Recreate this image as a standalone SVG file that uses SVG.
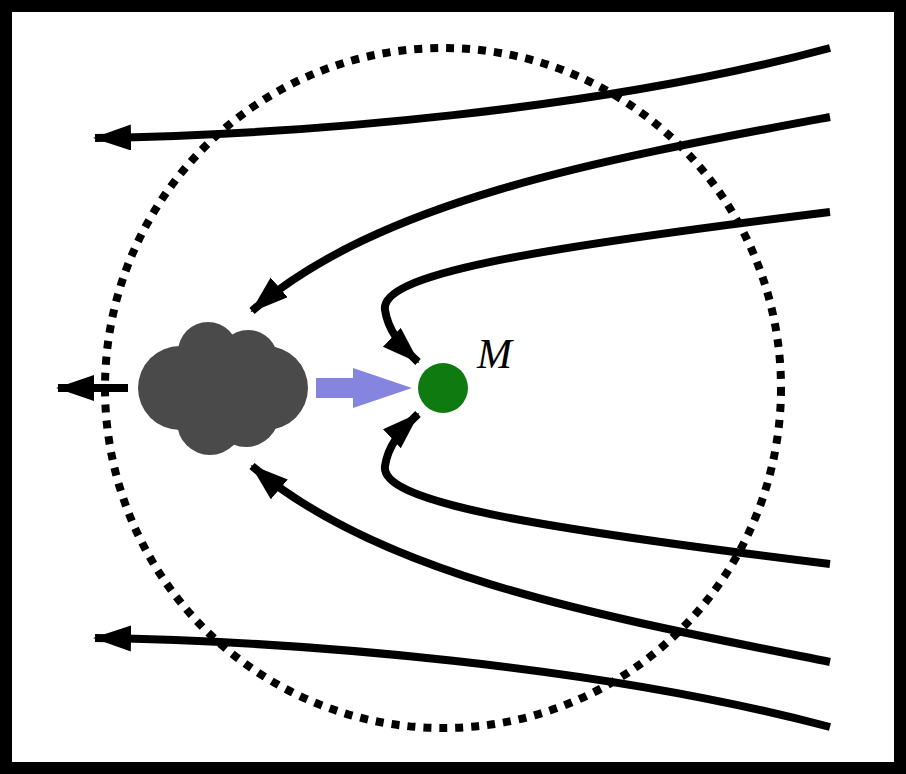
<svg xmlns="http://www.w3.org/2000/svg" width="906" height="774" viewBox="0 0 906 774">
<defs>
<marker id="ah" markerUnits="userSpaceOnUse" markerWidth="40" markerHeight="30" refX="36" refY="13" orient="auto"><path d="M0,0 L38,13 L0,26 Z" fill="#000"/></marker>
<style>.c{fill:none;stroke:#000;stroke-width:8;marker-end:url(#ah)}</style>
</defs>
<rect x="6" y="6" width="894" height="762" fill="#fff" stroke="#000" stroke-width="12"/>
<ellipse cx="443" cy="388" rx="338" ry="340" fill="none" stroke="#000" stroke-width="8" stroke-dasharray="8 8"/>
<g id="connectors">
<path class="c" d="M830,48 C600,110 300,135 95,138"/>
<path class="c" d="M830,117 C600,160 380,200 252,311"/>
<path class="c" d="M830,212 C520,250 380,275 385,310 C388,330 400,345 418,362"/>
<path class="c" d="M830,564 C520,526 380,501 385,466 C388,446 400,431 418,414"/>
<path class="c" d="M830,662 C600,616 380,576 252,466"/>
<path class="c" d="M830,727 C600,666 300,641 95,638"/>
<path class="c" d="M128,388 L58,388"/>
</g>
<g id="cloud" fill="#4a4a4a">
<circle cx="180" cy="388" r="42"/><circle cx="208" cy="352" r="30"/><circle cx="248" cy="360" r="30"/><circle cx="266" cy="388" r="42"/><circle cx="210" cy="422" r="33"/><circle cx="246" cy="414" r="33"/><circle cx="225" cy="388" r="40"/>
</g>
<g id="blue"><path d="M316,378 H353 V368 L412,388 L353,408 V398 H316 Z" fill="#8585e0"/></g>
<g id="M"><circle cx="443" cy="388" r="25" fill="#0f7a0f"/>
<text x="477" y="368" font-family="Liberation Serif, serif" font-style="italic" font-size="42">M</text></g>
</svg>
